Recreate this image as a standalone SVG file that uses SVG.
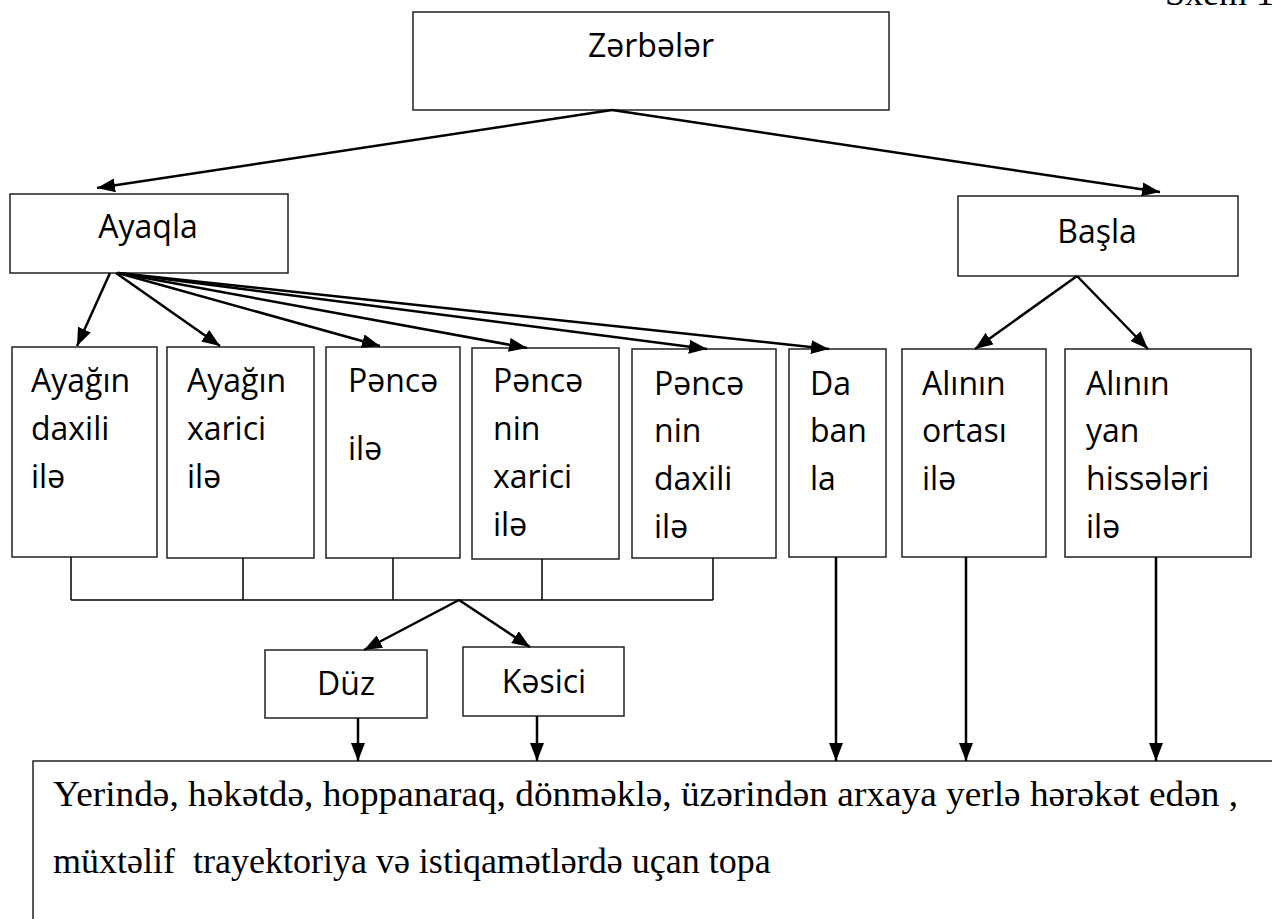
<svg xmlns="http://www.w3.org/2000/svg" width="1272" height="919" viewBox="0 0 1272 919">
<style>
.box{fill:#fff;stroke:#222;stroke-width:1.5}
.t{font-family:"Open Sans","Noto Sans",sans-serif;font-size:32px;fill:#000}
.c{text-anchor:middle}
.s{font-family:"Liberation Serif","Times New Roman",serif;font-size:36px;fill:#000}
.a{stroke:#000;stroke-width:2.5;fill:none;marker-end:url(#ah)}
.b{stroke:#000;stroke-width:1.5;fill:none}
</style>
<defs>
<marker id="ah" viewBox="0 0 18 14" refX="18" refY="7" markerWidth="18" markerHeight="14" markerUnits="userSpaceOnUse" orient="auto"><path d="M0,0 L18,7 L0,14 z" fill="#000"/></marker>
</defs>
<rect width="1272" height="919" fill="#fff"/>
<text class="s" x="1165" y="5">Sxem 1</text>

<g id="zerbeler"><rect class="box" x="413" y="12" width="476" height="98"/><text class="t c" x="651" y="57">Zərbələr</text></g>
<g id="ayaqla"><rect class="box" x="10" y="194" width="278" height="79"/><text class="t c" x="148" y="238">Ayaqla</text></g>
<g id="basla"><rect class="box" x="958" y="196" width="280" height="80"/><text class="t c" x="1097" y="243">Başla</text></g>

<g id="n1"><rect class="box" x="12" y="347" width="145" height="210"/><text class="t" x="31" y="392">Ayağın</text><text class="t" x="31" y="440">daxili</text><text class="t" x="31" y="488">ilə</text></g>
<g id="n2"><rect class="box" x="167" y="347" width="147" height="211"/><text class="t" x="187" y="392">Ayağın</text><text class="t" x="187" y="440">xarici</text><text class="t" x="187" y="488">ilə</text></g>
<g id="n3"><rect class="box" x="326" y="347" width="134" height="211"/><text class="t" x="348" y="392">Pəncə</text><text class="t" x="348" y="460">ilə</text></g>
<g id="n4"><rect class="box" x="472" y="348" width="147" height="211"/><text class="t" x="493" y="392">Pəncə</text><text class="t" x="493" y="440">nin</text><text class="t" x="493" y="488">xarici</text><text class="t" x="493" y="536">ilə</text></g>
<g id="n5"><rect class="box" x="632" y="349" width="144" height="209"/><text class="t" x="654" y="395">Pəncə</text><text class="t" x="654" y="442">nin</text><text class="t" x="654" y="490">daxili</text><text class="t" x="654" y="538">ilə</text></g>
<g id="n6"><rect class="box" x="789" y="349" width="97" height="208"/><text class="t" x="810" y="395">Da</text><text class="t" x="810" y="442">ban</text><text class="t" x="810" y="490">la</text></g>
<g id="n7"><rect class="box" x="902" y="349" width="144" height="208"/><text class="t" x="922" y="395">Alının</text><text class="t" x="922" y="442">ortası</text><text class="t" x="922" y="490">ilə</text></g>
<g id="n8"><rect class="box" x="1065" y="349" width="186" height="208"/><text class="t" x="1086" y="395">Alının</text><text class="t" x="1086" y="442">yan</text><text class="t" x="1086" y="490">hissələri</text><text class="t" x="1086" y="538">ilə</text></g>

<g id="duz"><rect class="box" x="265" y="650" width="162" height="68"/><text class="t c" x="346" y="695">Düz</text></g>
<g id="kesici"><rect class="box" x="463" y="647" width="161" height="69"/><text class="t c" x="544" y="693">Kəsici</text></g>

<g id="result"><path class="box" d="M1272,761 H33 V919" fill="none"/>
<text class="s" x="53" y="806" textLength="1185" lengthAdjust="spacingAndGlyphs">Yerində, həkətdə, hoppanaraq, dönməklə, üzərindən arxaya yerlə hərəkət edən ,</text>
<text class="s" x="53" y="873" xml:space="preserve">müxtəlif  trayektoriya və istiqamətlərdə uçan topa</text></g>

<g id="connectors">
<line class="a" x1="612" y1="110" x2="97" y2="188"/>
<line class="a" x1="612" y1="110" x2="1160" y2="192"/>
<line class="a" x1="110" y1="273" x2="77" y2="346"/>
<line class="a" x1="116" y1="273" x2="220" y2="346"/>
<line class="a" x1="118" y1="273" x2="380" y2="346"/>
<line class="a" x1="118" y1="273" x2="527" y2="348"/>
<line class="a" x1="118" y1="273" x2="707" y2="349"/>
<line class="a" x1="118" y1="273" x2="829" y2="349"/>
<line class="a" x1="1077" y1="276" x2="975" y2="349"/>
<line class="a" x1="1077" y1="276" x2="1148" y2="349"/>
<path class="b" d="M71,557 V600 M243,558 V600 M393,558 V600 M542,559 V600 M713,558 V600 M71,600 H713"/>
<line class="a" x1="459" y1="600" x2="364" y2="650"/>
<line class="a" x1="459" y1="600" x2="530" y2="647"/>
<line class="a" x1="358" y1="718" x2="358" y2="761"/>
<line class="a" x1="537" y1="716" x2="537" y2="761"/>
<line class="a" x1="836" y1="557" x2="836" y2="761"/>
<line class="a" x1="966" y1="557" x2="966" y2="761"/>
<line class="a" x1="1156" y1="557" x2="1156" y2="761"/>
</g>
</svg>
